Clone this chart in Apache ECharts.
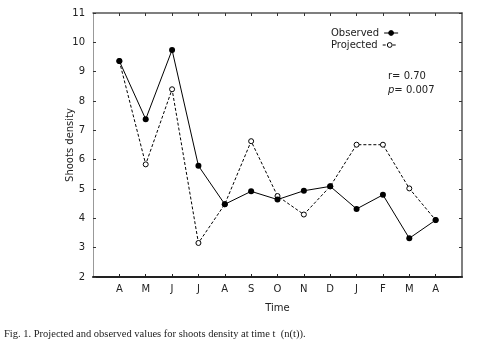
<!DOCTYPE html>
<html lang="en">
<head>
    <meta charset="UTF-8">
    <title>Shoots density</title>
    <script type="text/javascript" src="https://cdn.jsdelivr.net/npm/echarts@6/dist/echarts.min.js"></script>
    <style>
        html, body { margin: 0; padding: 0; background: #fff; }
    </style>
</head>
<body>
<div id="main" style="width: 478px;height:346px;"></div>
<script type="text/javascript">
    var myChart = echarts.init(document.getElementById('main'));

    // months (April to April)
    var months = ['A', 'M', 'J', 'J', 'A', 'S', 'O', 'N', 'D', 'J', 'F', 'M', 'A'];
    var observed = [9.36, 7.38, 9.74, 5.79, 4.48, 4.92, 4.64, 4.94, 5.09, 4.32, 4.80, 3.32, 3.94];
    var projected = [9.36, 5.84, 8.40, 3.16, 4.48, 6.63, 4.76, 4.13, 5.09, 6.51, 6.51, 5.02, 3.94];
    var yTicks = [2, 3, 4, 5, 6, 7, 8, 9, 10, 11];

    // an empty slot on each side of the months, like the original plot
    function pad(arr, fill) {
        return [fill].concat(arr, [fill]);
    }
    var cats = pad(months, '');
    var font = '"DejaVu Sans", sans-serif';

    var tickShow = function (index, value) { return value !== ''; };

    // one legend per row so the names line up on the left
    function legendRow(name, top) {
        return {
            orient: 'horizontal',
            left: 326,
            top: top,
            align: 'right',
            itemWidth: 14,
            itemHeight: 6,
            itemGap: 2,
            lineStyle: {width: 1},
            itemStyle: {borderWidth: 1},
            textStyle: {fontFamily: font, fontSize: 10, color: '#222', padding: [0, 0, 0, 0]},
            data: [name]
        };
    }

    option = {
        animation: false,
        grid: {
            left: 93,
            right: 16,
            top: 13,
            bottom: 69
        },
        legend: [legendRow('Observed', 23), legendRow('Projected', 35)],
        xAxis: [
            {
                type: 'category',
                data: cats,
                boundaryGap: false,
                name: 'Time',
                nameLocation: 'middle',
                nameGap: 26,
                nameTextStyle: {fontFamily: font, fontSize: 10, color: '#222'},
                axisLine: {lineStyle: {color: '#222', width: 2}},
                axisTick: {inside: true, length: 3, interval: tickShow, lineStyle: {color: '#222'}},
                axisLabel: {interval: 0, margin: 7, fontFamily: font, fontSize: 10, color: '#222'},
                splitLine: {show: false}
            },
            {
                type: 'category',
                data: cats,
                boundaryGap: false,
                position: 'top',
                axisLine: {lineStyle: {color: '#555', width: 1.5}},
                axisTick: {inside: true, length: 3, interval: tickShow, lineStyle: {color: '#333'}},
                axisLabel: {show: false},
                splitLine: {show: false}
            }
        ],
        yAxis: [
            {
                type: 'value',
                min: yTicks[0],
                max: yTicks[yTicks.length - 1],
                interval: 1,
                name: 'Shoots density',
                nameLocation: 'middle',
                nameGap: 18,
                nameMoveOverlap: false,
                nameTextStyle: {fontFamily: font, fontSize: 10, color: '#222'},
                axisLine: {show: true, lineStyle: {color: '#999', width: 1}},
                axisTick: {show: true, inside: true, length: 3, lineStyle: {color: '#333'}},
                axisLabel: {margin: 8, fontFamily: font, fontSize: 10, color: '#222'},
                splitLine: {show: false}
            },
            {
                type: 'value',
                min: yTicks[0],
                max: yTicks[yTicks.length - 1],
                interval: 1,
                position: 'right',
                axisLine: {show: true, lineStyle: {color: '#555', width: 1.5}},
                axisTick: {show: true, inside: true, length: 3, lineStyle: {color: '#333'}},
                axisLabel: {show: false},
                splitLine: {show: false}
            }
        ],
        series: [
            {
                name: 'Observed',
                type: 'line',
                data: pad(observed, null),
                symbol: 'circle',
                symbolSize: 6,
                lineStyle: {color: '#000', width: 1},
                itemStyle: {color: '#000', borderColor: '#000', borderWidth: 0},
                z: 3
            },
            {
                name: 'Projected',
                type: 'line',
                data: pad(projected, null),
                symbol: 'circle',
                symbolSize: 5,
                lineStyle: {color: '#000', width: 1, type: [3, 2]},
                itemStyle: {color: '#fff', borderColor: '#000', borderWidth: 1},
                z: 2
            }
        ],
        graphic: [
            {
                type: 'text',
                left: 388,
                top: 69,
                style: {
                    text: 'r= 0.70\n{i|p}= 0.007',
                    font: '10px ' + font,
                    fill: '#222',
                    lineHeight: 14,
                    rich: {
                        i: {fontStyle: 'italic', fontFamily: font, fontSize: 10, fill: '#222'}
                    }
                }
            },
            {
                type: 'text',
                left: 4,
                top: 329,
                style: {
                    text: 'Fig. 1. Projected and observed values for shoots density at time t  (n(t)).',
                    font: '10.5px "Liberation Serif", serif',
                    fill: '#222'
                }
            }
        ]
    };

    myChart.setOption(option);
</script>
</body>
</html>
